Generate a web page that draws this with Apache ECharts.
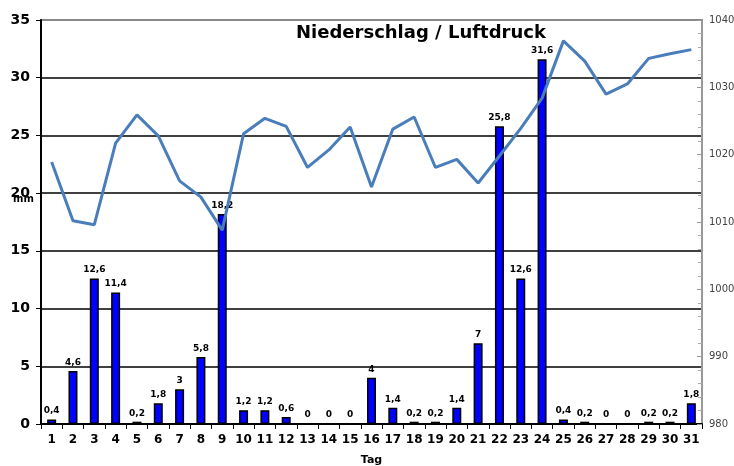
<!DOCTYPE html>
<html><head><meta charset="utf-8">
<script src="https://cdn.jsdelivr.net/npm/echarts@6/dist/echarts.min.js"></script>
<style>html,body{margin:0;padding:0;background:#fff}#c{width:734px;height:466px}</style>
</head><body><div id="c"></div>
<script>
const days = ['1','2','3','4','5','6','7','8','9','10','11','12','13','14','15','16','17','18','19','20','21','22','23','24','25','26','27','28','29','30','31'];
const niederschlag = [0.4,4.6,12.6,11.4,0.2,1.8,3,5.8,18.2,1.2,1.2,0.6,0,0,0,4,1.4,0.2,0.2,1.4,7,25.8,12.6,31.6,0.4,0.2,0,0,0.2,0.2,1.8];
const luftdruck = [1018.9,1010.2,1009.6,1021.7,1025.9,1022.8,1016.1,1013.7,1008.8,1023.1,1025.4,1024.2,1018.1,1020.7,1024.1,1015.2,1023.8,1025.6,1018.1,1019.3,1015.8,1019.8,1023.9,1028.4,1036.9,1033.9,1029.0,1030.5,1034.3,1035.0,1035.6];
const leftTicks = [0,5,10,15,20,25,30,35];
const rightTicks = [980,990,1000,1010,1020,1030,1040];

const F = 'DejaVu Sans, Verdana, sans-serif';
const chart = echarts.init(document.getElementById('c'), null, {renderer:'canvas'});
chart.setOption({
  animation:false,
  title:{text:'Niederschlag / Luftdruck', left:291, top:19,
    textStyle:{fontFamily:F, fontWeight:'bold', fontSize:18, color:'#000'}},
  grid:{left:41, right:32, top:20, bottom:42, outerBoundsMode:'none', containLabel:false,
    show:true, borderColor:'#888', borderWidth:2, backgroundColor:'transparent'},
  graphic:[{type:'text', left:13, top:194, style:{text:'mm', font:'bold 10px '+F, fill:'#000'}}],
  xAxis:{type:'category', data:days, name:'Tag', nameLocation:'middle', nameGap:31,
    nameTextStyle:{fontFamily:F, fontWeight:'bold', fontSize:11, color:'#000'},
    axisLine:{lineStyle:{color:'#000', width:2}},
    axisTick:{show:true, length:5, lineStyle:{color:'#000', width:1}},
    axisLabel:{fontFamily:F, fontWeight:'bold', fontSize:12, color:'#000', margin:10, interval:0}},
  yAxis:[
    {type:'value', min:leftTicks[0], max:leftTicks[leftTicks.length-1], interval:5,
      axisLine:{show:true, lineStyle:{color:'#000', width:2}},
      axisTick:{show:true, length:5, lineStyle:{color:'#000'}},
      axisLabel:{fontFamily:F, fontWeight:'bold', fontSize:14, color:'#000', margin:11},
      splitLine:{show:true, showMaxLine:false, showMinLine:false, lineStyle:{color:'#000', width:1.5}}},
    {type:'value', position:'right', min:rightTicks[0], max:rightTicks[rightTicks.length-1], interval:10,
      axisLine:{show:true, lineStyle:{color:'#999', width:2}},
      axisTick:{show:true, inside:true, length:5, lineStyle:{color:'#999'}},
      minorTick:{show:true, splitNumber:5, length:4, lineStyle:{color:'#aaa'}},
      axisLabel:{fontFamily:F, fontSize:10, color:'#444', margin:7, formatter:v=>String(v)},
      splitLine:{show:false}}
  ],
  series:[
    {type:'bar', data:niederschlag, yAxisIndex:0, barWidth:9, z:2,
      itemStyle:{color:'#0000ff', borderColor:'#000', borderWidth:1.5},
      label:{show:true, position:'top', distance:4, fontFamily:F, fontWeight:'bold', fontSize:9, color:'#000',
        formatter:p=>String(p.value).replace('.',',')}},
    {type:'line', data:luftdruck, yAxisIndex:1, symbol:'none', z:5,
      lineStyle:{color:'#4a7ebb', width:3}}
  ]
});
</script></body></html>
